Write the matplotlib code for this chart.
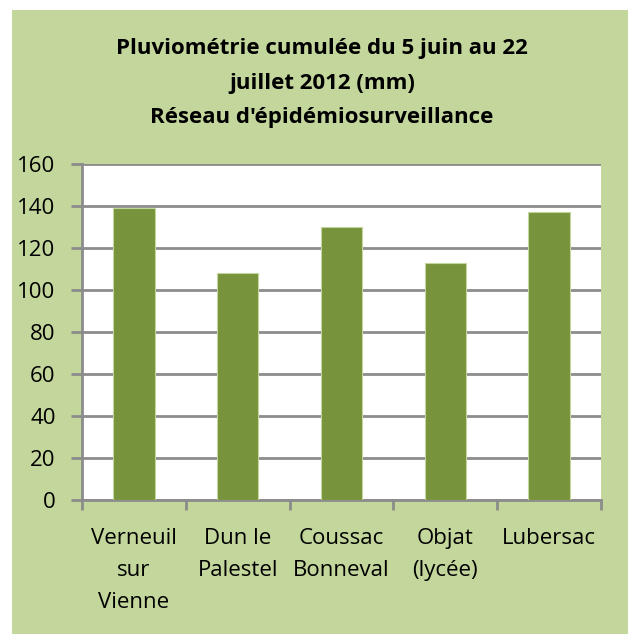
import matplotlib.pyplot as plt
from matplotlib.patches import Rectangle

# === Data ===
stations = ["Verneuil\nsur\nVienne", "Dun le\nPalestel", "Coussac\nBonneval", "Objat\n(lycée)", "Lubersac"]
pluvio_mm = [139, 108, 130, 113, 137]
y_ticks = [0, 20, 40, 60, 80, 100, 120, 140, 160]
title = "Pluviométrie cumulée du 5 juin au 22\njuillet 2012 (mm)\nRéseau d'épidémiosurveillance"

W, H = 628, 634
fig = plt.figure(figsize=(W / 100, H / 100), dpi=100)
fig.patch.set_facecolor("white")

# green chart area background
fig.patches.append(Rectangle((12 / W, 0), (W - 12) / W, (H - 10) / H,
                             transform=fig.transFigure, facecolor="#C3D69B",
                             edgecolor="none", zorder=-5))

ax = fig.add_axes([82 / W, (H - 500) / H, (601 - 82) / W, (500 - 164) / H])
ax.set_zorder(2)
ax.set_facecolor("white")

x = list(range(len(stations)))
ax.bar(x, pluvio_mm, width=0.4, color="#77933C", edgecolor="#C3D69B", linewidth=0.8, zorder=3)

ax.set_xlim(-0.5, len(stations) - 0.5)
ax.set_ylim(0, 160)
ax.set_yticks(y_ticks)
ax.yaxis.grid(True, color="#8C8C8C", linewidth=2, zorder=1)
ax.set_axisbelow(True)

ax.set_xticks(x)
ax.set_xticklabels(stations, fontsize=16, family="Open Sans", linespacing=1.7)
ax.set_xticks([i - 0.5 for i in range(len(stations) + 1)], minor=True)
ax.tick_params(axis="x", which="major", length=0, pad=20)
ax.tick_params(axis="x", which="minor", length=7, width=2, color="#8C8C8C")
ax.tick_params(axis="y", length=8, width=2, color="#8C8C8C", labelsize=16, pad=11)
for lbl in ax.get_yticklabels():
    lbl.set_family("Open Sans")

for side in ["top", "right"]:
    ax.spines[side].set_visible(False)
for side in ["left", "bottom"]:
    ax.spines[side].set_color("#8C8C8C")
    ax.spines[side].set_linewidth(2)

fig.text(322 / W, 1 - 83 / H, title, ha="center", va="center", fontsize=16,
         fontweight="bold", family="Open Sans", linespacing=1.82)

fig.savefig("out.png", dpi=100, facecolor=fig.get_facecolor())
